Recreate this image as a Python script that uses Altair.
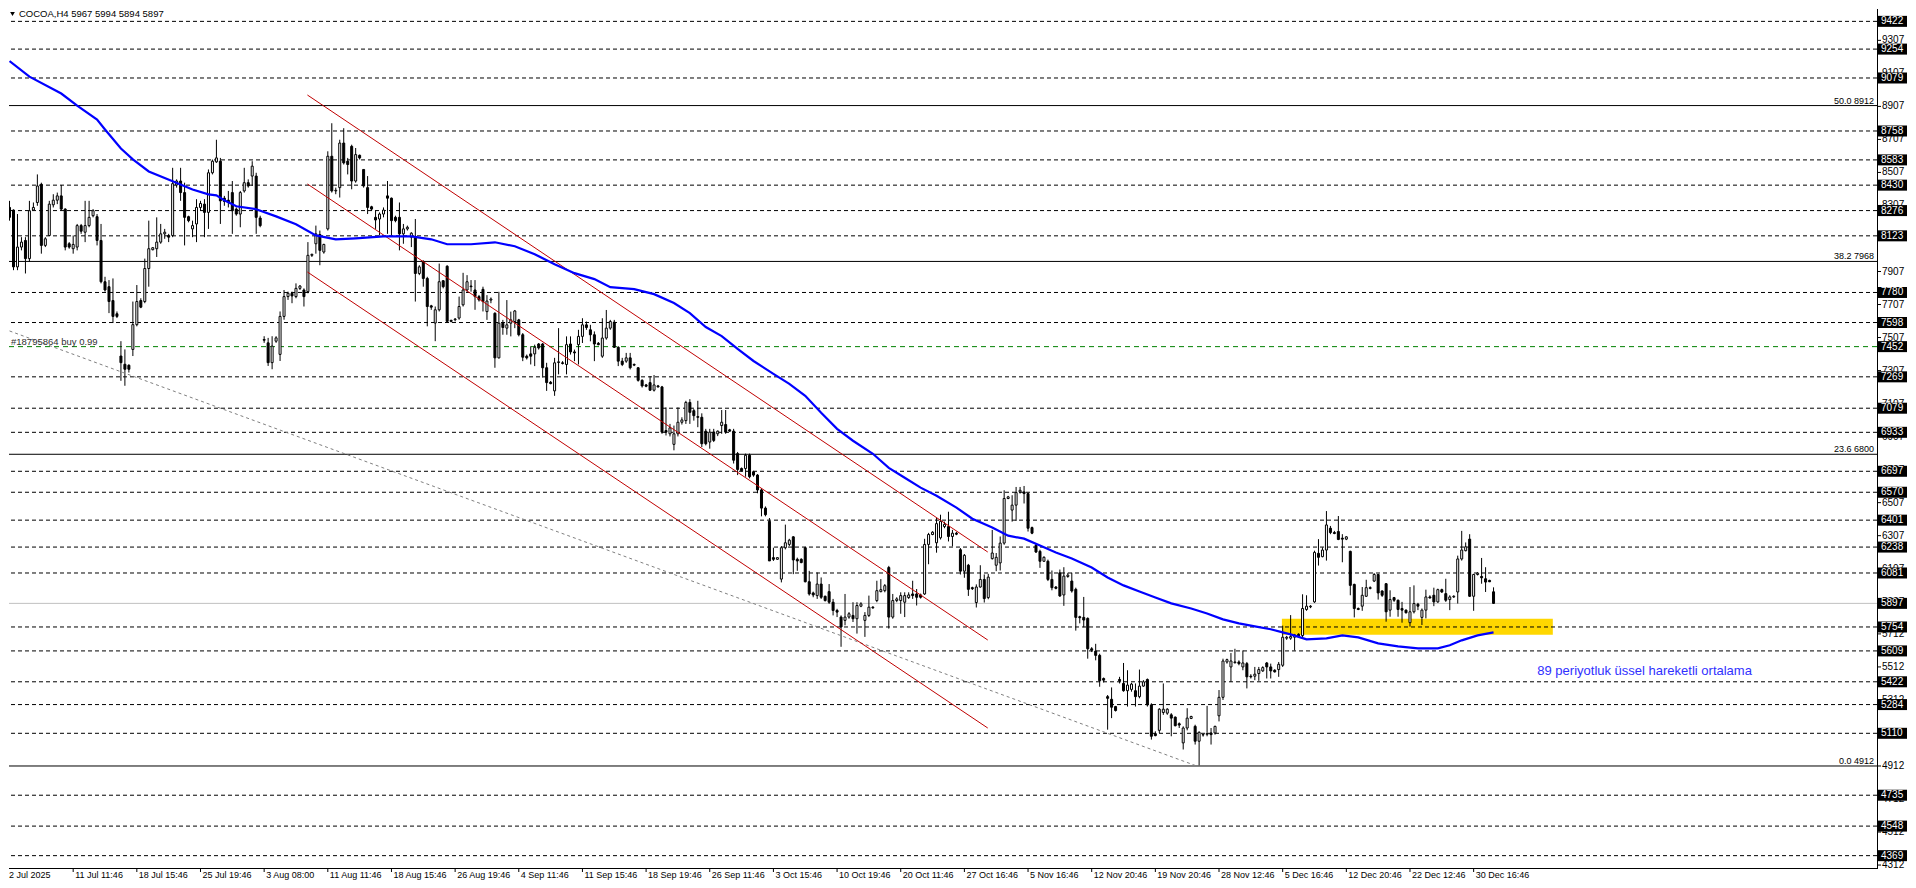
import altair as alt
import pandas as pd

# ---------------- candle data (H4 bars, index 1..374) ----------------
opens = [
    8295, 8279, 7935, 8055, 8095, 7985, 8279, 8325, 8435, 8065,
    8125, 8311, 8339, 8365, 8285, 8075, 8045, 8055, 8185, 8145,
    8185, 8245, 8239, 8095, 7845, 7815, 7731, 7651, 7395, 7345,
    7339, 7435, 7585, 7731, 7725, 7925, 8039, 8045, 8085, 8135,
    8125, 8125, 8431, 8455, 8385, 8239, 8165, 8195, 8295, 8315,
    8265, 8505, 8571, 8575, 8351, 8339, 8385, 8285, 8255, 8395,
    8445, 8485, 8485, 8231, 7495, 7475, 7355, 7485, 7405, 7635,
    7755, 7775, 7755, 7805, 7795, 7785, 8005, 8075, 8131, 8025,
    8165, 8605, 8395, 8415, 8685, 8575, 8665, 8455, 8611, 8525,
    8415, 8299, 8235, 8225, 8255, 8365, 8351, 8235, 8235, 8135,
    8165, 8115, 8115, 7895, 7965, 7865, 7699, 7595, 7675, 7851,
    7939, 7611, 7615, 7625, 7705, 7795, 7819, 7795, 7755, 7799,
    7664, 7734, 7654, 7384, 7594, 7564, 7594, 7604, 7614, 7524,
    7394, 7408, 7408, 7468, 7468, 7324, 7236, 7184, 7356, 7354,
    7344, 7468, 7420, 7464, 7514, 7584, 7554, 7524, 7472, 7394,
    7504, 7564, 7600, 7448, 7364, 7364, 7384, 7344, 7324, 7248,
    7220, 7234, 7188, 7214, 7208, 6944, 6924, 6860, 6924, 6994,
    7004, 7114, 7064, 7028, 7024, 6940, 6874, 6934, 6924, 6974,
    6980, 6948, 6940, 6804, 6714, 6714, 6794, 6694, 6674, 6584,
    6474, 6394, 6174, 6164, 6044, 6234, 6254, 6300, 6164, 6164,
    6234, 6028, 5960, 5944, 6014, 5940, 5968, 5904, 5854, 5814,
    5794, 5814, 5824, 5804, 5880, 5794, 5824, 5874, 5914, 5968,
    5974, 6114, 5814, 5914, 5914, 5904, 5932, 5954, 5954, 5948,
    5954, 6254, 6314, 6264, 6294, 6362, 6362, 6302, 6322, 6222,
    6092, 6128, 5992, 5902, 5996, 6042, 5932, 6168, 6128, 6142,
    6262, 6532, 6462, 6492, 6572, 6572, 6562, 6356, 6248, 6212,
    6152, 6152, 6042, 5996, 6082, 5948, 6060, 6032, 5982, 5816,
    5812, 5806, 5622, 5608, 5582, 5442, 5332, 5316, 5272, 5436,
    5412, 5368, 5376, 5368, 5332, 5396, 5436, 5282, 5108, 5128,
    5236, 5232, 5222, 5208, 5168, 5052, 5142, 5200, 5152, 5062,
    5100, 5104, 5112, 5112, 5216, 5328, 5542, 5512, 5538, 5542,
    5512, 5532, 5456, 5456, 5472, 5488, 5536, 5512, 5492, 5496,
    5522, 5686, 5686, 5692, 5710, 5702, 5860, 5876, 5906, 6200,
    6180, 6220, 6352, 6326, 6332, 6292, 6286, 6212, 6012, 5866,
    5880, 5940, 5992, 6032, 6072, 5972, 6016, 5856, 5932, 5916,
    5866, 5856, 5780, 5846, 5892, 5812, 5856, 5936, 5946, 5906,
    5980, 5956, 5920, 5936, 5966, 6166, 6216, 6286, 5940, 6072,
    6060, 6046, 6036, 5967,
]
highs = [
    8335, 8283, 8255, 8115, 8115, 8335, 8325, 8495, 8445, 8115,
    8335, 8375, 8385, 8431, 8290, 8085, 8125, 8195, 8195, 8335,
    8335, 8285, 8255, 8195, 7875, 7855, 7865, 7665, 7485, 7435,
    7345, 7725, 7825, 7745, 7985, 8215, 8055, 8235, 8195, 8165,
    8135, 8535, 8465, 8535, 8445, 8245, 8215, 8345, 8335, 8345,
    8525, 8585, 8705, 8595, 8365, 8395, 8455, 8295, 8395, 8535,
    8465, 8575, 8505, 8245, 7515, 7505, 7515, 7515, 7665, 7795,
    7785, 7785, 7835, 7825, 7805, 8085, 8015, 8185, 8155, 8075,
    8635, 8805, 8415, 8705, 8775, 8595, 8675, 8655, 8615, 8525,
    8485, 8305, 8275, 8265, 8295, 8455, 8355, 8245, 8325, 8195,
    8185, 8145, 8225, 7945, 7975, 7875, 7705, 7695, 7955, 7855,
    7945, 7615, 7625, 7755, 7899, 7885, 7855, 7855, 7765, 7815,
    7764, 7750, 7660, 7784, 7614, 7734, 7664, 7674, 7620, 7534,
    7404, 7454, 7464, 7474, 7474, 7354, 7244, 7384, 7564, 7364,
    7514, 7514, 7434, 7554, 7624, 7604, 7584, 7544, 7480, 7624,
    7674, 7614, 7614, 7454, 7384, 7414, 7414, 7350, 7328, 7254,
    7226, 7274, 7280, 7220, 7214, 7084, 6984, 6974, 7084, 7024,
    7124, 7134, 7074, 7124, 7048, 6954, 6954, 6954, 6944, 7068,
    7068, 6954, 6954, 6814, 6720, 6804, 6804, 6700, 6680, 6594,
    6484, 6414, 6234, 6174, 6244, 6374, 6288, 6304, 6174, 6170,
    6240, 6094, 5968, 6084, 6054, 5944, 6014, 5924, 5864, 5824,
    5954, 5844, 5904, 5904, 5904, 5844, 5944, 5880, 6034, 6044,
    6014, 6124, 5954, 5934, 5964, 5964, 5964, 6034, 5984, 5956,
    6288, 6324, 6334, 6414, 6434, 6392, 6452, 6342, 6330, 6232,
    6196, 6136, 5998, 6012, 6128, 6072, 6076, 6342, 6202, 6302,
    6582, 6548, 6552, 6602, 6602, 6608, 6568, 6362, 6262, 6222,
    6182, 6162, 6096, 6002, 6102, 6116, 6082, 6082, 5992, 5822,
    5936, 5812, 5632, 5652, 5592, 5448, 5342, 5388, 5276, 5452,
    5536, 5492, 5416, 5412, 5496, 5432, 5442, 5292, 5122, 5262,
    5412, 5262, 5232, 5212, 5176, 5152, 5262, 5216, 5162, 5122,
    5106, 5276, 5142, 5156, 5372, 5562, 5562, 5596, 5622, 5552,
    5612, 5542, 5468, 5512, 5512, 5516, 5542, 5532, 5498, 5542,
    5762, 5700, 5826, 5712, 5716, 5952, 5946, 5886, 6216, 6286,
    6236, 6456, 6366, 6336, 6426, 6316, 6304, 6216, 6016, 5872,
    5996, 6040, 6000, 6080, 6076, 5976, 6020, 5976, 5936, 5920,
    5906, 5860, 5996, 6006, 5900, 5866, 5980, 5946, 5992, 5986,
    5986, 6046, 5946, 5946, 6186, 6336, 6266, 6316, 6076, 6086,
    6172, 6116, 6040, 5994,
]
lows = [
    8215, 7915, 7915, 8035, 7895, 7965, 8275, 8305, 8015, 8055,
    8125, 8295, 8315, 8275, 8035, 8045, 8015, 8035, 8135, 8085,
    8175, 8235, 8065, 7835, 7785, 7655, 7595, 7625, 7245, 7215,
    7295, 7395, 7575, 7685, 7715, 7815, 8035, 7995, 8075, 8105,
    8085, 8115, 8415, 8335, 8065, 8205, 8115, 8085, 8275, 8115,
    8165, 8495, 8565, 8195, 8305, 8295, 8135, 8245, 8175, 8385,
    8415, 8425, 8135, 8175, 7475, 7335, 7315, 7475, 7365, 7615,
    7735, 7715, 7745, 7795, 7695, 7775, 7995, 8015, 7945, 8015,
    8155, 8385, 8375, 8355, 8555, 8495, 8405, 8445, 8585, 8415,
    8255, 8275, 8165, 8125, 8235, 8135, 8125, 8205, 8035, 8075,
    8155, 8055, 7725, 7885, 7815, 7575, 7675, 7485, 7665, 7805,
    7595, 7599, 7605, 7615, 7695, 7785, 7785, 7675, 7725, 7665,
    7614, 7715, 7324, 7380, 7524, 7524, 7514, 7564, 7514, 7364,
    7374, 7344, 7334, 7434, 7264, 7184, 7224, 7154, 7284, 7344,
    7284, 7404, 7364, 7344, 7474, 7554, 7484, 7364, 7460, 7384,
    7494, 7554, 7444, 7334, 7334, 7354, 7314, 7334, 7240, 7204,
    7206, 7184, 7180, 7204, 6924, 6914, 6908, 6824, 6908, 6980,
    6984, 6984, 7004, 6964, 6844, 6854, 6834, 6874, 6910, 6924,
    6924, 6936, 6744, 6674, 6696, 6664, 6654, 6664, 6564, 6424,
    6424, 6154, 6154, 6160, 6024, 6224, 6244, 6074, 6094, 6140,
    6024, 5944, 5934, 5924, 5924, 5908, 5894, 5824, 5814, 5634,
    5764, 5804, 5784, 5714, 5874, 5694, 5814, 5864, 5904, 5964,
    5964, 5744, 5804, 5904, 5834, 5814, 5924, 5924, 5884, 5926,
    5948, 6134, 6310, 6204, 6284, 6352, 6272, 6242, 6310, 6072,
    6052, 5942, 5978, 5872, 5992, 5902, 5922, 6162, 6092, 6096,
    6252, 6528, 6392, 6396, 6562, 6502, 6332, 6316, 6202, 6112,
    6148, 6032, 5976, 5982, 5936, 5882, 6052, 5962, 5732, 5776,
    5752, 5562, 5602, 5552, 5392, 5418, 5132, 5202, 5242, 5412,
    5362, 5272, 5362, 5272, 5322, 5392, 5272, 5072, 5092, 5112,
    5222, 5222, 5092, 5152, 5142, 5012, 5128, 5196, 5042, 4916,
    5090, 5092, 5042, 5102, 5182, 5312, 5532, 5422, 5532, 5522,
    5492, 5382, 5442, 5432, 5428, 5482, 5442, 5442, 5478, 5452,
    5512, 5676, 5676, 5612, 5690, 5692, 5852, 5868, 5900, 6126,
    6176, 6156, 6316, 6316, 6280, 6146, 6280, 5946, 5812, 5856,
    5852, 5936, 5982, 6026, 5920, 5936, 5786, 5816, 5906, 5816,
    5780, 5836, 5756, 5836, 5856, 5766, 5806, 5926, 5880, 5900,
    5960, 5906, 5856, 5930, 5896, 6156, 6212, 5936, 5852, 6066,
    6016, 5966, 6026, 5894,
]
closes = [
    8235, 7935, 8055, 8085, 7985, 8275, 8295, 8425, 8065, 8105,
    8315, 8339, 8365, 8285, 8055, 8055, 8071, 8185, 8151, 8185,
    8235, 8275, 8095, 7845, 7795, 7725, 7635, 7635, 7355, 7315,
    7315, 7585, 7725, 7691, 7925, 8045, 8051, 8085, 8135, 8145,
    8115, 8439, 8455, 8385, 8235, 8215, 8185, 8295, 8319, 8265,
    8505, 8575, 8595, 8335, 8331, 8325, 8275, 8255, 8385, 8445,
    8425, 8545, 8235, 8185, 7491, 7355, 7455, 7505, 7635, 7755,
    7775, 7759, 7805, 7819, 7755, 8005, 8011, 8135, 8035, 8071,
    8605, 8395, 8399, 8685, 8565, 8555, 8455, 8615, 8595, 8425,
    8295, 8285, 8219, 8255, 8279, 8351, 8215, 8215, 8135, 8165,
    8175, 8139, 7895, 7935, 7865, 7695, 7691, 7675, 7845, 7815,
    7605, 7605, 7619, 7695, 7795, 7845, 7815, 7755, 7735, 7725,
    7728, 7740, 7384, 7594, 7568, 7584, 7614, 7668, 7524, 7388,
    7384, 7394, 7448, 7444, 7324, 7234, 7228, 7354, 7360, 7350,
    7464, 7420, 7414, 7514, 7584, 7568, 7524, 7468, 7464, 7504,
    7564, 7604, 7448, 7364, 7344, 7384, 7324, 7340, 7248, 7214,
    7212, 7188, 7220, 7208, 6934, 6934, 6960, 6924, 6994, 7008,
    7114, 7054, 7034, 7024, 6864, 6864, 6934, 6884, 6940, 6994,
    6934, 6940, 6764, 6708, 6700, 6794, 6664, 6674, 6584, 6474,
    6434, 6154, 6164, 6174, 6234, 6264, 6280, 6160, 6154, 6144,
    6028, 5954, 5948, 6014, 5934, 5914, 5904, 5854, 5844, 5754,
    5814, 5834, 5804, 5884, 5894, 5824, 5874, 5870, 5974, 5980,
    6004, 5814, 5914, 5924, 5944, 5944, 5948, 5944, 5934, 5934,
    6254, 6314, 6328, 6380, 6394, 6376, 6302, 6322, 6316, 6092,
    6188, 5982, 5986, 5996, 6042, 5926, 6056, 6202, 6176, 6262,
    6532, 6542, 6492, 6568, 6582, 6562, 6352, 6322, 6208, 6152,
    6176, 6042, 5992, 5988, 5942, 6062, 6068, 5972, 5812, 5810,
    5796, 5622, 5614, 5582, 5428, 5432, 5322, 5268, 5248, 5428,
    5368, 5402, 5408, 5332, 5396, 5422, 5282, 5092, 5096, 5256,
    5256, 5256, 5202, 5156, 5160, 5142, 5202, 5212, 5062, 5116,
    5102, 5108, 5102, 5152, 5328, 5548, 5556, 5548, 5542, 5532,
    5536, 5452, 5452, 5468, 5496, 5508, 5512, 5488, 5482, 5528,
    5692, 5692, 5696, 5706, 5696, 5866, 5880, 5880, 6206, 6176,
    6220, 6372, 6326, 6320, 6284, 6286, 6300, 6006, 5866, 5860,
    5946, 5992, 5988, 6072, 5960, 5946, 5846, 5920, 5916, 5860,
    5856, 5840, 5846, 5896, 5880, 5856, 5936, 5930, 5906, 5980,
    5966, 5916, 5936, 5940, 6166, 6220, 6240, 5940, 6072, 6080,
    6052, 6026, 6028, 5897,
]

# ---------------- 89-period EMA ----------------
ema_bars = [1, 6, 14, 18, 23, 25, 29, 32, 36, 42, 47, 51, 53, 55, 58, 63, 68, 73, 78, 83,
            88, 95, 102, 107, 111, 117, 123, 128, 133, 138, 143, 148, 152, 158, 163, 168,
            172, 176, 180, 184, 188, 193, 197, 201, 205, 209, 213, 218, 222, 226, 230, 234,
            239, 243, 248, 252, 256, 260, 264, 268, 273, 277, 281, 285, 289, 293, 298, 302,
            306, 310, 314, 318, 321, 323, 327, 332, 336, 340, 345, 350, 355, 360, 363, 366,
            370, 374]
ema_values = [9182, 9087, 8985, 8912, 8827, 8767, 8652, 8586, 8513, 8453, 8404, 8374, 8368,
              8338, 8302, 8284, 8241, 8193, 8126, 8102, 8108, 8120, 8120, 8102, 8072, 8072,
              8084, 8060, 8012, 7951, 7897, 7861, 7812, 7800, 7770, 7716, 7655, 7571, 7516,
              7438, 7365, 7287, 7226, 7154, 7051, 6954, 6882, 6803, 6718, 6658, 6598, 6549,
              6477, 6410, 6356, 6307, 6289, 6247, 6205, 6169, 6114, 6054, 6006, 5969, 5933,
              5897, 5866, 5836, 5800, 5776, 5758, 5740, 5721, 5709, 5679, 5685, 5703, 5691,
              5655, 5637, 5625, 5625, 5643, 5673, 5703, 5721]

# ---------------- horizontal levels ----------------
dashed_levels = [9422, 9254, 9079, 8758, 8583, 8430, 8276, 8123, 7780, 7598, 7269, 7079,
                 6933, 6697, 6570, 6401, 6238, 6081, 5754, 5609, 5422, 5284, 5110, 4735,
                 4548, 4369]
order_level = 7452
order_text = "#18795864 buy 0.99"
bid_level = 5897
fib_levels = [8912, 7968, 6800, 4912]
fib_texts = ["50.0 8912", "38.2 7968", "23.6 6800", "0.0 4912"]
axis_ticks = [9307, 9107, 8907, 8707, 8507, 8307, 8107, 7907, 7707, 7507, 7307, 7107, 6907,
              6707, 6507, 6307, 6107, 5907, 5712, 5512, 5312, 5112, 4912, 4712, 4512, 4312]

# ---------------- drawn objects ----------------
channel_start_bar = [75.875, 75.875, 75.875]
channel_end_bar = [246.875, 246.875, 246.875]
channel_start_price = [8976, 8437, 7904]
channel_end_price = [6208, 5675, 5142]
trend_bars = [1, 299.4]
trend_prices = [7547, 4912]
zone_bars = [320.8, 388.9]
zone_prices = [5707, 5804]
ema_label = "89 periyotluk üssel hareketli ortalama"
ema_label_bar = 385
ema_label_price = 5490
title_text = "COCOA,H4  5967 5994 5894 5897"

time_label_bars = [17, 33, 49, 65, 81, 97, 113, 129, 145, 161, 177, 193, 209, 225, 241, 257,
                   273, 289, 305, 321, 337, 353, 369]
time_labels = ["11 Jul 11:46", "18 Jul 15:46", "25 Jul 19:46", "3 Aug 08:00", "11 Aug 11:46",
               "18 Aug 15:46", "26 Aug 19:46", "4 Sep 11:46", "11 Sep 15:46", "18 Sep 19:46",
               "26 Sep 11:46", "3 Oct 15:46", "10 Oct 19:46", "20 Oct 11:46", "27 Oct 16:46",
               "5 Nov 16:46", "12 Nov 20:46", "19 Nov 20:46", "28 Nov 12:46", "5 Dec 16:46",
               "12 Dec 20:46", "22 Dec 12:46", "30 Dec 16:46"]
first_time_label = "2 Jul 2025"

# ---------------- chart ----------------
W, H = 1868, 859
FONT = "Liberation Sans"
xs = alt.Scale(domain=[2.125, 469.125], nice=False, zero=False)
ys = alt.Scale(domain=[4294.2, 9496.9], nice=False, zero=False)


def X(f):
    return alt.X(f, type="quantitative", scale=xs, axis=None)


def Y(f):
    return alt.Y(f, type="quantitative", scale=ys, axis=None)


candles = pd.DataFrame({"n": list(range(1, len(opens) + 1)), "open": opens, "high": highs,
                        "low": lows, "close": closes})

zone = alt.Chart(pd.DataFrame({"n1": [zone_bars[0]], "n2": [zone_bars[1]],
                               "p1": [zone_prices[0]], "p2": [zone_prices[1]]})).mark_rect(
    color="#FFD700").encode(x=X("n1"), x2="n2", y=Y("p1"), y2="p2")

dashed = alt.Chart(pd.DataFrame({"p": dashed_levels})).mark_rule(
    color="black", strokeWidth=1, strokeDash=[4, 3]).encode(y=Y("p"))
fibs = alt.Chart(pd.DataFrame({"p": fib_levels, "t": fib_texts}))
fib_lines = fibs.mark_rule(color="black", strokeWidth=1).encode(y=Y("p"))
fib_labels = fibs.mark_text(align="right", baseline="alphabetic", dy=-2, fontSize=9,
                            font=FONT, color="black").encode(
    x=alt.value(W - 3), y=Y("p"), text="t:N")
bid = alt.Chart(pd.DataFrame({"p": [bid_level]})).mark_rule(
    color="#c0c0c0", strokeWidth=1).encode(y=Y("p"))
order = alt.Chart(pd.DataFrame({"p": [order_level], "t": [order_text]}))
order_line = order.mark_rule(color="#008000", strokeWidth=1, strokeDash=[5, 4]).encode(y=Y("p"))
order_label = order.mark_text(align="left", baseline="alphabetic", dy=-2, fontSize=9.5,
                              font=FONT, color="#303030").encode(
    x=alt.value(2), y=Y("p"), text="t:N")

trend = alt.Chart(pd.DataFrame({"n1": [trend_bars[0]], "n2": [trend_bars[1]],
                                "p1": [trend_prices[0]], "p2": [trend_prices[1]]})).mark_rule(
    color="#808080", strokeWidth=1, strokeDash=[3, 3], clip=True).encode(
    x=X("n1"), x2="n2", y=Y("p1"), y2="p2")

channel = alt.Chart(pd.DataFrame({"n1": channel_start_bar, "n2": channel_end_bar,
                                  "p1": channel_start_price, "p2": channel_end_price})).mark_rule(
    color="#c00000", strokeWidth=1).encode(x=X("n1"), x2="n2", y=Y("p1"), y2="p2")

wicks = alt.Chart(candles).mark_rule(color="black", strokeWidth=1, clip=True).encode(
    x=X("n"), y=Y("low"), y2="high")
bodies = alt.Chart(candles).mark_bar(size=2, stroke="black", strokeWidth=1, clip=True).encode(
    x=X("n"), y=Y("open"), y2="close",
    fill=alt.condition("datum.close >= datum.open", alt.value("white"), alt.value("black")))

ema = alt.Chart(pd.DataFrame({"n": ema_bars, "p": ema_values})).mark_line(
    color="#0000ff", strokeWidth=2.2, clip=True).encode(x=X("n"), y=Y("p"))

ema_text = alt.Chart(pd.DataFrame({"n": [ema_label_bar], "p": [ema_label_price],
                                   "t": [ema_label]})).mark_text(
    align="left", baseline="middle", fontSize=13, font=FONT, color="#3030ff").encode(
    x=X("n"), y=Y("p"), text="t:N")

title = alt.Chart(pd.DataFrame({"t": [title_text]})).mark_text(
    align="left", baseline="top", fontSize=9.5, font=FONT, color="black").encode(
    x=alt.value(10), y=alt.value(0), text="t:N")
tri = alt.Chart(pd.DataFrame({"t": [title_text]})).mark_point(
    shape="triangle-down", filled=True, size=22, color="black", opacity=1).encode(
    x=alt.value(3.5), y=alt.value(5))

# right price axis
raxis_line = alt.Chart(pd.DataFrame({"a": [0]})).mark_rule(color="black", strokeWidth=1).encode(
    x=alt.value(W + 0.5), y=alt.value(0), y2=alt.value(H))
tick_df = alt.Chart(pd.DataFrame({"p": axis_ticks}))
rticks = tick_df.mark_rule(color="black", strokeWidth=1).encode(
    x=alt.value(W), x2=alt.value(W + 4), y=Y("p"))
rlabels = tick_df.mark_text(align="left", baseline="middle", fontSize=10, font=FONT,
                            color="black").encode(x=alt.value(W + 5), y=Y("p"), text="p:Q")
boxed = alt.Chart(pd.DataFrame({"p": sorted(dashed_levels + [order_level, bid_level])}))
boxes = boxed.mark_tick(orient="horizontal", thickness=11, size=29, color="black",
                        opacity=1).encode(x=alt.value(W + 15.5), y=Y("p"))
box_text = boxed.mark_text(align="left", baseline="middle", fontSize=10, font=FONT,
                           color="white").encode(x=alt.value(W + 4), y=Y("p"), text="p:Q")

# bottom time axis
baxis_line = alt.Chart(pd.DataFrame({"a": [0]})).mark_rule(color="black", strokeWidth=1).encode(
    x=alt.value(0), x2=alt.value(W + 1), y=alt.value(H + 0.5))
tdf = alt.Chart(pd.DataFrame({"n": time_label_bars, "t": time_labels}))
bticks = tdf.mark_rule(color="black", strokeWidth=1).encode(
    x=X("n"), y=alt.value(H), y2=alt.value(H + 4))
blabels = tdf.mark_text(align="left", baseline="middle", dx=2, fontSize=9, font=FONT,
                        color="black").encode(x=X("n"), y=alt.value(H + 7), text="t:N")
first_label = alt.Chart(pd.DataFrame({"t": [first_time_label]})).mark_text(
    align="left", baseline="middle", fontSize=9, font=FONT, color="black").encode(
    x=alt.value(0), y=alt.value(H + 7), text="t:N")

chart = alt.layer(
    zone, dashed, fib_lines, bid, order_line, wicks, bodies, trend, channel, ema,
    fib_labels, order_label, ema_text, title, tri,
    raxis_line, rticks, rlabels, boxes, box_text,
    baxis_line, bticks, blabels, first_label,
).properties(width=W, height=H, padding=0).configure_view(stroke=None)

chart.save("out.html", embed_options={"renderer": "svg", "actions": False})
